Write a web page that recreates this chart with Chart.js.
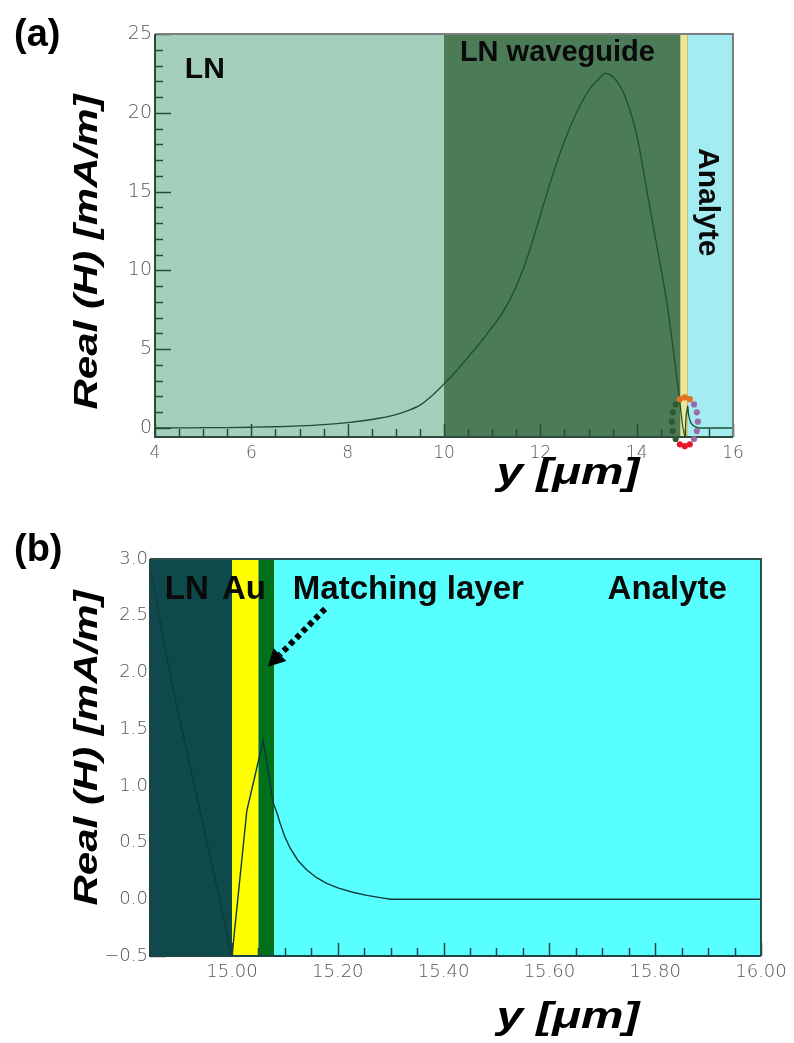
<!DOCTYPE html>
<html>
<head>
<meta charset="utf-8">
<script src="https://cdn.jsdelivr.net/npm/chart.js@4.4.1/dist/chart.umd.min.js"></script>
<style>
  html, body { margin: 0; padding: 0; background: #fff; }
  #wrap { position: relative; width: 794px; height: 1043px; }
  canvas { position: absolute; left: 0; }
  #fieldA { top: 0; }
  #fieldB { top: 515px; }
</style>
</head>
<body>
<div id="wrap">
  <canvas id="fieldA" width="794" height="515"></canvas>
  <canvas id="fieldB" width="794" height="528"></canvas>
</div>
<script>
// field profile, shared by both panels: y position [um] and Real(H) [mA/m]
const Y_POS = [4, 4.5, 5, 5.5, 6, 6.5, 7, 7.5, 8, 8.5,
  9, 9.25, 9.5, 9.75, 10, 10.25, 10.5, 10.75, 11, 11.25,
  11.5, 11.75, 12, 12.25, 12.5, 12.75, 13, 13.2, 13.35, 13.5,
  13.75, 14, 14.25, 14.5, 14.62, 14.84, 14.885, 15.0, 15.028, 15.046,
  15.059, 15.078, 15.085, 15.091, 15.1, 15.11, 15.125, 15.141, 15.16, 15.179,
  15.2, 15.23, 15.255, 15.28, 15.3, 15.4, 15.6, 15.8, 16];
const H_REAL = [0, 0.01, 0.02, 0.03, 0.05, 0.08, 0.13, 0.21, 0.34, 0.54,
  0.85, 1.1, 1.45, 2.05, 2.8, 3.6, 4.5, 5.4, 6.4, 7.5,
  9.0, 11.0, 13.5, 16.0, 18.2, 20.0, 21.4, 22.1, 22.5, 22.3,
  21.1, 18.6, 14.4, 10.2, 8.1, 3.05, 1.93, -0.5, 0.78, 1.14,
  1.40, 0.85, 0.76, 0.67, 0.55, 0.45, 0.34, 0.26, 0.19, 0.14,
  0.10, 0.06, 0.035, 0.015, 0, 0, 0, 0, 0];

// panel (a)
const A_X_TICKS = [4, 6, 8, 10, 12, 14, 16];
const A_Y_TICKS = [0, 5, 10, 15, 20, 25];
const A_LAYER_NAMES = ['LN', 'LN waveguide', 'Au', 'Analyte'];
const A_LAYER_EDGES = [4, 10, 14.9, 15.05, 16];

// panel (b)
const B_X_TICKS = [15.0, 15.2, 15.4, 15.6, 15.8, 16.0];
const B_Y_TICKS = [-0.5, 0, 0.5, 1.0, 1.5, 2.0, 2.5, 3.0];
const B_LAYER_NAMES = ['LN', 'Au', 'Matching layer', 'Analyte'];
const B_LAYER_EDGES = [14.8, 15.0, 15.05, 15.08, 16];

const points = Y_POS.map((v, i) => ({ x: v, y: H_REAL[i] }));
const BOLD = '"Liberation Sans", Arial, sans-serif';

function tickFont(size) {
  return { family: 'DejaVu Sans', size: size, weight: '200' };
}

function stretchText(ctx, text, x, y, font, width, rot) {
  ctx.save();
  ctx.font = font;
  const w = ctx.measureText(text).width;
  ctx.translate(x, y);
  if (rot) ctx.rotate(rot);
  ctx.scale(width / w, 1);
  ctx.textAlign = 'center';
  ctx.textBaseline = 'alphabetic';
  ctx.fillText(text, 0, 0);
  ctx.restore();
}

const panelPlugin = {
  id: 'panel',
  beforeDatasetsDraw(chart, args, o) {
    const { ctx, chartArea: a, scales: { x } } = chart;
    ctx.save();
    for (let i = 0; i < o.edges.length - 1; i++) {
      const x0 = Math.max(a.left, x.getPixelForValue(o.edges[i]));
      const x1 = Math.min(a.right, x.getPixelForValue(o.edges[i + 1]));
      ctx.fillStyle = o.colors[i];
      ctx.fillRect(x0, a.top, x1 - x0, a.bottom - a.top);
    }
    if (o.stripEdge) {
      ctx.strokeStyle = o.stripEdge;
      ctx.lineWidth = 1;
      [2, 3].forEach(k => {
        const px = Math.round(x.getPixelForValue(o.edges[k])) + 0.5;
        ctx.beginPath(); ctx.moveTo(px, a.top); ctx.lineTo(px, a.bottom); ctx.stroke();
      });
    }
    ctx.restore();
  },
  afterDatasetsDraw(chart, args, o) {
    const { ctx, chartArea: a, scales: { x, y } } = chart;
    ctx.save();

    // inward tick marks
    ctx.strokeStyle = o.tickColor;
    ctx.lineWidth = 1.5;
    const xStart = Math.ceil(x.min / o.xMinor - 1e-6) * o.xMinor;
    for (let v = xStart; v <= x.max + 1e-9; v += o.xMinor) {
      const major = Math.abs(v / o.xMajor - Math.round(v / o.xMajor)) < 1e-6;
      const px = Math.round(x.getPixelForValue(v)) + 0.5;
      ctx.beginPath();
      ctx.moveTo(px, a.bottom);
      ctx.lineTo(px, a.bottom - (major ? o.majorLen : o.minorLen));
      ctx.stroke();
    }
    const yStart = Math.ceil(y.min / o.yMinor - 1e-6) * o.yMinor;
    for (let v = yStart; v <= y.max + 1e-9; v += o.yMinor) {
      const major = Math.abs(v / o.yMajor - Math.round(v / o.yMajor)) < 1e-6;
      const py = Math.round(y.getPixelForValue(v)) + 0.5;
      ctx.beginPath();
      ctx.moveTo(a.left, py);
      ctx.lineTo(a.left + (major ? o.majorLen + 3 : o.minorLen), py);
      ctx.stroke();
    }

    // frame
    ctx.lineWidth = 2;
    ctx.strokeStyle = o.frameColor;
    ctx.beginPath();
    ctx.moveTo(a.left, a.top); ctx.lineTo(a.right, a.top); ctx.lineTo(a.right, a.bottom);
    ctx.stroke();
    ctx.strokeStyle = o.axisColor;
    ctx.beginPath();
    ctx.moveTo(a.left, a.top); ctx.lineTo(a.left, a.bottom); ctx.lineTo(a.right, a.bottom);
    ctx.stroke();

    // layer names
    ctx.fillStyle = '#0a0a0a';
    o.labels.forEach(l => {
      ctx.save();
      ctx.font = `bold ${l.size}px ${BOLD}`;
      ctx.textAlign = 'left';
      ctx.textBaseline = 'alphabetic';
      ctx.translate(x.getPixelForValue(l.x), a.top + l.dy);
      if (l.rotate) ctx.rotate(Math.PI / 2);
      ctx.fillText(l.text, 0, 0);
      ctx.restore();
    });

    // dotted marker ring round the gold layer
    if (o.ring) {
      const r = o.ring;
      const cx = x.getPixelForValue(r.x), cy = y.getPixelForValue(r.y);
      const rx = Math.abs(x.getPixelForValue(r.x + r.rx) - cx);
      const ry = Math.abs(y.getPixelForValue(r.y + r.ry) - cy);
      for (let k = 0; k < 16; k++) {
        const t = k / 16 * Math.PI * 2;
        const s = Math.sin(t), c = Math.cos(t);
        let col = r.colors[0];
        if (s < -0.75) col = r.colors[1];
        else if (s > 0.75) col = r.colors[2];
        else if (c > 0) col = r.colors[3];
        ctx.fillStyle = col;
        ctx.beginPath();
        ctx.arc(cx + rx * c, cy + ry * s, 3.1, 0, Math.PI * 2);
        ctx.fill();
      }
    }

    // dotted arrow pointing at the matching layer
    if (o.arrow) {
      const fx = x.getPixelForValue(o.arrow.from[0]), fy = y.getPixelForValue(o.arrow.from[1]);
      const tx = x.getPixelForValue(o.arrow.to[0]), ty = y.getPixelForValue(o.arrow.to[1]);
      const ang = Math.atan2(ty - fy, tx - fx);
      const head = 17;
      const bx = tx - Math.cos(ang) * head, by = ty - Math.sin(ang) * head;
      ctx.strokeStyle = '#000';
      ctx.lineWidth = 6;
      ctx.setLineDash([5, 4]);
      ctx.beginPath(); ctx.moveTo(fx, fy); ctx.lineTo(bx, by); ctx.stroke();
      ctx.setLineDash([]);
      ctx.fillStyle = '#000';
      ctx.beginPath();
      ctx.moveTo(tx, ty);
      ctx.lineTo(bx + Math.sin(ang) * 9, by - Math.cos(ang) * 9);
      ctx.lineTo(bx - Math.sin(ang) * 9, by + Math.cos(ang) * 9);
      ctx.closePath();
      ctx.fill();
    }
    ctx.restore();
  },
  afterDraw(chart, args, o) {
    const ctx = chart.ctx;
    ctx.save();
    ctx.fillStyle = '#000';
    stretchText(ctx, o.xTitle.text, o.xTitle.cx, o.xTitle.base, `italic bold 37px ${BOLD}`, o.xTitle.width);
    stretchText(ctx, o.yTitle.text, o.yTitle.cx, o.yTitle.cy, `italic bold 34px ${BOLD}`, o.yTitle.width, -Math.PI / 2);
    ctx.font = `bold 38px ${BOLD}`;
    ctx.textAlign = 'left';
    ctx.fillText(o.panel.text, o.panel.x, o.panel.base);
    ctx.restore();
  }
};

function axisTicks(values) {
  return s => { s.ticks = values.map(v => ({ value: v })); };
}

const a_config = {
  type: 'line',
  data: {
    datasets: [{
      data: points,
      borderColor: '#1c5034',
      borderWidth: 1.3,
      pointRadius: 0,
      cubicInterpolationMode: 'monotone'
    }]
  },
  options: {
    responsive: false,
    animation: false,
    events: [],
    layout: { padding: { top: 34, right: 61, left: 0, bottom: 0 } },
    scales: {
      x: {
        type: 'linear', min: 4, max: 16,
        afterBuildTicks: axisTicks(A_X_TICKS),
        afterFit: s => { s.height = 78; },
        grid: { display: false, drawTicks: false },
        border: { display: false },
        ticks: { padding: 6, color: '#555', font: tickFont(17), maxRotation: 0, autoSkip: false }
      },
      y: {
        min: -0.57, max: 25,
        afterBuildTicks: axisTicks(A_Y_TICKS),
        afterFit: s => { s.width = 155; },
        grid: { display: false, drawTicks: false },
        border: { display: false },
        ticks: { padding: 3, color: '#555', font: tickFont(19), autoSkip: false }
      }
    },
    plugins: {
      legend: { display: false },
      tooltip: { enabled: false },
      panel: {
        edges: A_LAYER_EDGES,
        colors: ['#a3cfbb', '#4b7b57', '#ebe69a', '#a3ecf1'],
        stripEdge: '#c9c26a',
        tickColor: '#2b4a38', frameColor: '#7a7f7c', axisColor: '#2b4a38',
        xMinor: 0.5, xMajor: 2, yMinor: 1, yMajor: 5, minorLen: 8, majorLen: 13,
        labels: [
          { text: A_LAYER_NAMES[0], x: 4.62, dy: 44, size: 30 },
          { text: A_LAYER_NAMES[1], x: 10.33, dy: 27, size: 29 },
          { text: A_LAYER_NAMES[3], x: 15.3, dy: 114, size: 30, rotate: true }
        ],
        ring: { x: 15.0, y: 0.4, rx: 0.27, ry: 1.55,
          colors: ['#2d5a30', '#e0731f', '#e4182a', '#9b6aa8'] },
        xTitle: { text: 'y [μm]', cx: 568, base: 484, width: 143 },
        yTitle: { text: 'Real (H) [mA/m]', cx: 97, cy: 252, width: 315 },
        panel: { text: '(a)', x: 14, base: 46 }
      }
    }
  },
  plugins: [panelPlugin]
};

const b_config = {
  type: 'line',
  data: {
    datasets: [{
      data: points,
      borderColor: '#0c3a3a',
      borderWidth: 1.4,
      pointRadius: 0,
      tension: 0
    }]
  },
  options: {
    responsive: false,
    animation: false,
    events: [],
    layout: { padding: { top: 44, right: 33, left: 0, bottom: 0 } },
    scales: {
      x: {
        type: 'linear', min: 14.845, max: 16,
        afterBuildTicks: axisTicks(B_X_TICKS),
        afterFit: s => { s.height = 87; },
        grid: { display: false, drawTicks: false },
        border: { display: false },
        ticks: { padding: 6, color: '#555', font: tickFont(18), maxRotation: 0, autoSkip: false,
          callback: v => v.toFixed(2) }
      },
      y: {
        min: -0.5, max: 3.0,
        afterBuildTicks: axisTicks(B_Y_TICKS),
        afterFit: s => { s.width = 150; },
        grid: { display: false, drawTicks: false },
        border: { display: false },
        ticks: { padding: 2, color: '#555', font: tickFont(18), autoSkip: false,
          callback: v => v.toFixed(1).replace('-', '−') }
      }
    },
    plugins: {
      legend: { display: false },
      tooltip: { enabled: false },
      panel: {
        edges: B_LAYER_EDGES,
        colors: ['#0e4a4b', '#ffff00', '#00701a', '#58ffff'],
        tickColor: '#1d4444', frameColor: '#2d4d4d', axisColor: '#1d4444',
        xMinor: 0.05, xMajor: 0.2, yMinor: 0.1, yMajor: 0.5, minorLen: 8, majorLen: 13,
        labels: [
          { text: B_LAYER_NAMES[0], x: 14.873, dy: 40, size: 33 },
          { text: B_LAYER_NAMES[1], x: 14.981, dy: 40, size: 33 },
          { text: B_LAYER_NAMES[2], x: 15.115, dy: 40, size: 33 },
          { text: B_LAYER_NAMES[3], x: 15.71, dy: 40, size: 33 }
        ],
        arrow: { from: [15.176, 2.56], to: [15.068, 2.05] },
        xTitle: { text: 'y [μm]', cx: 568, base: 513, width: 143 },
        yTitle: { text: 'Real (H) [mA/m]', cx: 97, cy: 233, width: 315 },
        panel: { text: '(b)', x: 14, base: 46 }
      }
    }
  },
  plugins: [panelPlugin]
};

const a_chart = new Chart(document.getElementById('fieldA'), a_config);
const b_chart = new Chart(document.getElementById('fieldB'), b_config);
</script>
</body>
</html>
